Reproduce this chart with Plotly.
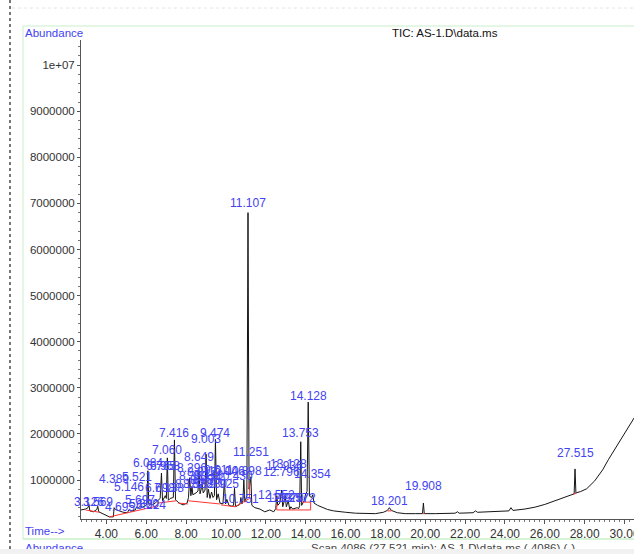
import plotly.graph_objects as go

# ---------------- data ----------------
# TIC trace: retention time (min) and abundance (millions of counts)
time_min = [
    2.73, 2.95, 3.08, 3.126, 3.17, 3.35, 3.52, 3.569, 3.62, 3.90,
    4.15, 4.35, 4.389, 4.45, 4.65, 4.85, 5.05, 5.146, 5.22, 5.45,
    5.521, 5.58, 5.697, 5.80, 5.95, 6.03, 6.084, 6.13, 6.224, 6.30,
    6.45, 6.60, 6.70, 6.765, 6.82, 6.958, 7.01, 7.060, 7.11, 7.20,
    7.36, 7.416, 7.47, 7.65, 7.85, 8.05, 8.12, 8.182, 8.24, 8.296,
    8.34, 8.50, 8.60, 8.649, 8.70, 8.812, 8.86, 8.95, 9.003, 9.06,
    9.118, 9.20, 9.280, 9.35, 9.42, 9.474, 9.53, 9.611, 9.70, 9.85,
    9.925, 9.98, 10.046, 10.15, 10.30, 10.38, 10.430, 10.48, 10.60, 10.70,
    10.751, 10.80, 10.85, 10.898, 10.95, 11.05, 11.107, 11.16, 11.20, 11.251,
    11.30, 11.45, 11.70, 11.95, 12.20, 12.40, 12.50, 12.552, 12.60, 12.70,
    12.796, 12.85, 12.93, 12.970, 13.03, 13.128, 13.20, 13.257, 13.35, 13.572,
    13.65, 13.70, 13.753, 13.80, 13.92, 14.00, 14.07, 14.128, 14.19, 14.30,
    14.354, 14.42, 14.60, 14.85, 15.10, 15.40, 15.70, 16.00, 16.50, 17.00,
    17.50, 17.90, 18.10, 18.201, 18.30, 18.60, 19.00, 19.50, 19.86, 19.908,
    19.95, 20.50, 21.00, 21.50, 21.62, 21.70, 22.40, 22.52, 22.62, 23.50,
    24.20, 24.30, 24.40, 25.00, 25.50, 26.00, 26.50, 27.00, 27.40, 27.47,
    27.515, 27.56, 27.80, 28.10, 28.50, 28.90, 29.20, 29.50, 29.80, 30.10,
    30.50,
]
abundance_m = [
    0.35, 0.37, 0.40, 0.47, 0.33, 0.31, 0.36, 0.43, 0.31, 0.26,
    0.20, 0.20, 0.40, 0.36, 0.33, 0.30, 0.29, 0.36, 0.32, 0.35,
    0.42, 0.38, 0.43, 0.41, 0.44, 0.48, 1.20, 0.47, 0.49, 0.46,
    0.50, 0.56, 0.60, 1.15, 0.55, 0.66, 0.60, 1.48, 0.56, 0.60,
    0.62, 1.87, 0.57, 0.50, 0.46, 0.50, 0.62, 1.05, 0.66, 0.86,
    0.68, 0.72, 0.76, 1.20, 0.70, 0.90, 0.72, 0.78, 1.56, 0.62,
    0.80, 0.60, 0.74, 0.62, 0.66, 1.88, 0.57, 0.70, 0.50, 0.48,
    1.00, 0.48, 0.58, 0.45, 0.43, 0.45, 0.82, 0.42, 0.44, 0.47,
    0.62, 0.48, 0.55, 1.00, 0.52, 0.66, 6.80, 0.80, 0.90, 1.07,
    0.45, 0.40, 0.37, 0.31, 0.35, 0.31, 0.38, 0.66, 0.45, 0.50,
    0.78, 0.42, 0.55, 0.66, 0.42, 0.55, 0.36, 0.42, 0.37, 0.40,
    0.38, 0.45, 1.83, 0.45, 0.55, 0.70, 0.75, 2.69, 0.65, 0.62,
    0.68, 0.50, 0.45, 0.40, 0.36, 0.33, 0.31, 0.30, 0.28, 0.27,
    0.27, 0.30, 0.34, 0.40, 0.34, 0.29, 0.27, 0.27, 0.27, 0.50,
    0.27, 0.27, 0.27, 0.28, 0.31, 0.28, 0.29, 0.33, 0.30, 0.31,
    0.33, 0.40, 0.34, 0.37, 0.41, 0.47, 0.55, 0.62, 0.68, 0.70,
    1.24, 0.72, 0.75, 0.81, 0.98, 1.22, 1.45, 1.66, 1.88, 2.10,
    2.36,
]

# integration baselines (red): start time, start level, end time, end level (millions)
base_t0 = [2.95, 4.15, 6.60, 7.60, 8.10, 9.75, 10.45, 11.19, 12.55, 14.25, 13.80, 12.55, 18.10, 19.86, 27.45]
base_v0 = [0.35, 0.20, 0.50, 0.50, 0.55, 0.46, 0.42, 0.60, 0.35, 0.35, 0.52, 0.35, 0.33, 0.27, 0.69]
base_t1 = [3.65, 6.60, 7.50, 8.10, 9.70, 10.45, 11.19, 11.19, 14.25, 14.25, 14.25, 12.55, 18.30, 19.96, 27.60]
base_v1 = [0.30, 0.44, 0.55, 0.48, 0.48, 0.42, 0.60, 0.95, 0.35, 0.52, 0.52, 0.48, 0.33, 0.27, 0.72]

# peak labels (retention times)
peak_labels = [
    "3.126", "3.569", "4.389", "4.695", "5.146", "5.521", "5.697", "5.880", "6.224",
    "6.084", "6.765", "6.958", "6.698", "7.138", "7.060", "7.416",
    "8.182", "8.296", "8.383", "8.588", "8.812", "8.935", "9.118", "9.280",
    "9.611", "9.925", "10.046", "10.430", "10.898",
    "8.649", "9.003", "9.474", "10.751", "11.251", "11.107",
    "12.552", "12.796", "12.936", "13.128", "12.970", "13.257", "13.572",
    "13.753", "14.128", "14.354", "18.201", "19.908", "27.515",
]

# y-axis ticks
ytick_vals = [1e6, 2e6, 3e6, 4e6, 5e6, 6e6, 7e6, 8e6, 9e6, 1e7]
ytick_text = ["1000000", "2000000", "3000000", "4000000", "5000000",
              "6000000", "7000000", "8000000", "9000000", "1e+07"]

# ---------------- placement (layout only) ----------------
# vertical centre of each peak label, millions of counts (stacked like ChemStation)
label_level = [
    0.52, 0.52, 1.02, 0.42, 0.85, 1.07, 0.57, 0.48, 0.46,
    1.37, 1.30, 1.30, 0.83, 0.83, 1.65, 2.02,
    0.91, 1.26, 1.09, 0.91, 1.17, 1.00, 1.11, 0.91,
    1.22, 0.91, 1.20, 1.09, 1.20,
    1.50, 1.89, 2.02, 0.59, 1.61, 7.00,
    0.68, 1.17, 1.30, 1.35, 0.61, 0.61, 0.61,
    2.02, 2.82, 1.13, 0.55, 0.87, 1.58,
]

W, H = 634, 554
ML, MR, MT, MB = 81, 0, 40, 35
PW, PH = W - ML - MR, H - MT - MB
X_RANGE = [2.728, 30.474]
Y_RANGE = [154000, 10545000]


def xp(px):
    return (px - ML) / PW


def yp(py):
    return (H - MB - py) / PH


FONT = "Liberation Sans, Arial, sans-serif"
BLUE = "#4343f2"

fig = go.Figure()

# TIC trace
fig.add_trace(go.Scatter(
    x=time_min, y=[v * 1e6 for v in abundance_m],
    mode="lines", line=dict(color="#151515", width=1),
    hoverinfo="skip",
))

# red integration baselines
rx, ry = [], []
for a, b, c, d in zip(base_t0, base_v0, base_t1, base_v1):
    rx += [a, c, None]
    ry += [b * 1e6, d * 1e6, None]
fig.add_trace(go.Scatter(x=rx, y=ry, mode="lines",
                         line=dict(color="#ff3333", width=1), hoverinfo="skip"))

annotations = []
for lab, lvl in zip(peak_labels, label_level):
    annotations.append(dict(
        x=float(lab), y=lvl * 1e6, xref="x", yref="y", text=lab,
        showarrow=False, xanchor="center", yanchor="middle",
        font=dict(family=FONT, size=12, color=BLUE),
    ))

annotations += [
    dict(x=xp(23), y=yp(33), xref="paper", yref="paper", text="Abundance",
         showarrow=False, xanchor="left", yanchor="middle",
         font=dict(family=FONT, size=11.5, color=BLUE)),
    dict(x=xp(390), y=yp(33), xref="paper", yref="paper", text="TIC: AS-1.D\\data.ms",
         showarrow=False, xanchor="left", yanchor="middle",
         font=dict(family=FONT, size=11.5, color="#111111")),
    dict(x=xp(23), y=yp(531), xref="paper", yref="paper", text="Time-->",
         showarrow=False, xanchor="left", yanchor="middle",
         font=dict(family=FONT, size=11.5, color=BLUE)),
    # footer line, partly hidden by the window strip below
    dict(x=xp(23), y=yp(548), xref="paper", yref="paper", text="Abundance",
         showarrow=False, xanchor="left", yanchor="middle",
         font=dict(family=FONT, size=11.5, color=BLUE)),
    dict(x=xp(443), y=yp(548), xref="paper", yref="paper",
         text="Scan 4086 (27.521 min): AS-1.D\\data.ms ( 4086) (-)",
         showarrow=False, xanchor="center", yanchor="middle",
         font=dict(family=FONT, size=11.5, color="#444444")),
    # grey window strip covering the lower part of the footer
    dict(x=xp(0), y=yp(548.5), xref="paper", yref="paper", text=" ",
         showarrow=False, xanchor="left", yanchor="top",
         width=640, height=8, bgcolor="#f1f1f1", borderpad=0, borderwidth=0,
         font=dict(family=FONT, size=6, color="#f1f1f1")),
]

GREEN = "#c9efc9"
shapes = [
    dict(type="line", xref="paper", yref="paper", x0=xp(23), x1=xp(640), y0=yp(26), y1=yp(26),
         line=dict(color=GREEN, width=1)),
    dict(type="line", xref="paper", yref="paper", x0=xp(23), x1=xp(23), y0=yp(26), y1=yp(539),
         line=dict(color=GREEN, width=1)),
    dict(type="line", xref="paper", yref="paper", x0=xp(23), x1=xp(640), y0=yp(539), y1=yp(539),
         line=dict(color=GREEN, width=1.5)),
    dict(type="line", xref="paper", yref="paper", x0=xp(10), x1=xp(10), y0=yp(0), y1=yp(554),
         line=dict(color="#777777", width=2, dash="dot")),
    dict(type="line", xref="paper", yref="paper", x0=xp(12), x1=xp(640), y0=yp(8), y1=yp(8),
         line=dict(color="#e4e4e4", width=1, dash="dot")),
]

fig.update_layout(
    width=W, height=H,
    margin=dict(l=ML, r=MR, t=MT, b=MB, pad=0, autoexpand=False),
    paper_bgcolor="white", plot_bgcolor="white",
    showlegend=False,
    annotations=annotations, shapes=shapes,
    font=dict(family=FONT),
    xaxis=dict(
        range=X_RANGE, tick0=0, dtick=2, tickformat=".2f", automargin=False,
        ticks="outside", ticklen=4, tickcolor="#555555", tickwidth=1,
        showline=True, linecolor="#555555", linewidth=1,
        showgrid=False, zeroline=False, ticklabeloverflow="allow",
        tickfont=dict(family=FONT, size=12, color="#333333"),
        minor=dict(ticks="outside", ticklen=2, dtick=0.25, tick0=0, tickcolor="#777777", showgrid=False),
    ),
    yaxis=dict(
        range=Y_RANGE, tickmode="array", tickvals=ytick_vals, ticktext=ytick_text,
        automargin=False,
        ticks="outside", ticklen=3, tickcolor="#555555", tickwidth=1,
        showline=True, linecolor="#555555", linewidth=1,
        showgrid=False, zeroline=False,
        tickfont=dict(family=FONT, size=11.5, color="#333333"),
        minor=dict(ticks="outside", ticklen=2, dtick=200000, tick0=0, tickcolor="#777777", showgrid=False),
    ),
)

fig.write_html("out.html")
